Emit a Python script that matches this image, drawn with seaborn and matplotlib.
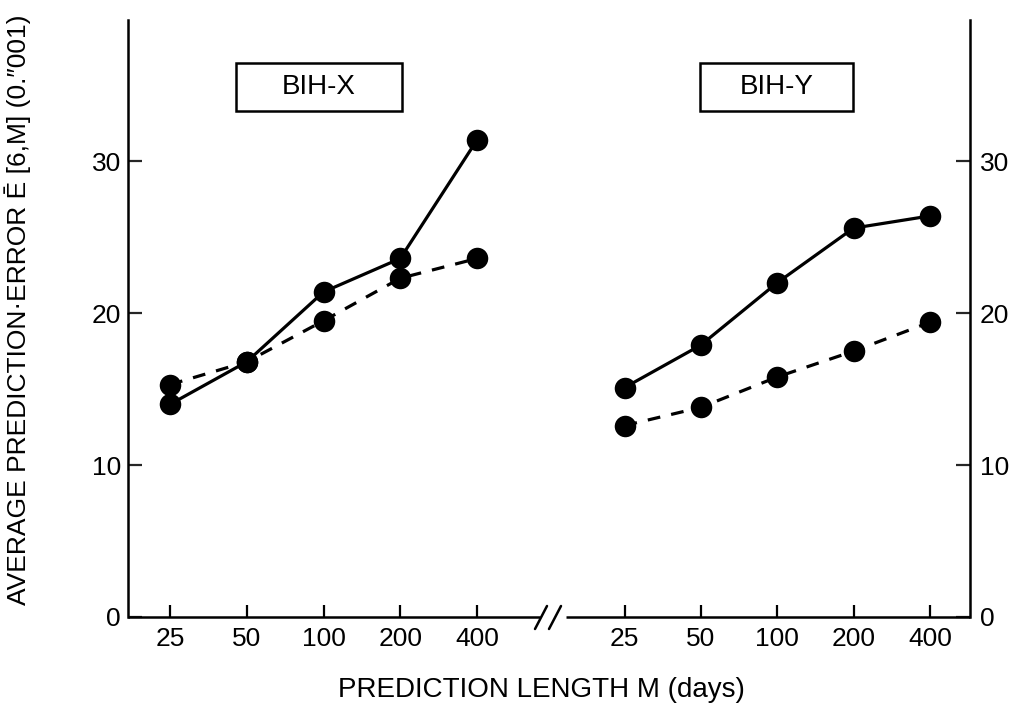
import matplotlib
matplotlib.use("Agg")
import matplotlib.pyplot as plt
import seaborn as sns
import pandas as pd
from matplotlib.patches import Rectangle

sns.set_theme(style="white")
plt.rcParams['font.family'] = ['Liberation Sans', 'DejaVu Sans']

lengths = [25, 50, 100, 200, 400]
bihx_solid = [14.0, 16.8, 21.4, 23.6, 31.4]
bihx_dashed = [15.3, 16.8, 19.5, 22.3, 23.6]
bihy_solid = [15.1, 17.9, 22.0, 25.6, 26.4]
bihy_dashed = [12.6, 13.8, 15.8, 17.5, 19.4]
yticks = [0, 10, 20, 30]
panel_titles = ["BIH-X", "BIH-Y"]

fig = plt.figure(figsize=(10.12, 7.15), dpi=100)
W, H = 1012, 715
bottom = (H - 617) / H
height = (617 - 20) / H
axL = fig.add_axes([128 / W, bottom, (555 - 128) / W, height])
axR = fig.add_axes([555 / W, bottom, (970 - 555) / W, height])

ms = 15.5
lw = 2.3
tfs = 19
for ax, solid, dashed in [(axL, bihx_solid, bihx_dashed), (axR, bihy_solid, bihy_dashed)]:
    df = pd.DataFrame({"M": lengths + lengths,
                       "E": solid + dashed,
                       "kind": ["solid"] * 5 + ["dashed"] * 5})
    sns.lineplot(data=df[df.kind == "dashed"], x="M", y="E", ax=ax, color="black",
                 marker="o", markersize=ms, linewidth=lw, markeredgewidth=0,
                 linestyle=(0, (4, 3.5)), legend=False)
    sns.lineplot(data=df[df.kind == "solid"], x="M", y="E", ax=ax, color="black",
                 marker="o", markersize=ms, linewidth=lw, markeredgewidth=0,
                 legend=False)
    ax.set_xscale("log", base=2)
    ax.set_xticks(lengths)
    ax.set_xticklabels([str(v) for v in lengths], fontsize=tfs)
    ax.minorticks_off()
    ax.set_ylim(0, 39.3)
    ax.set_xlabel("")
    ax.set_ylabel("")
    ax.set_facecolor("white")
    for s in ax.spines.values():
        s.set_visible(False)
    ax.tick_params(axis="x", direction="in", length=9, width=1.6, color="black",
                   bottom=True, pad=7, labelcolor="black")

axL.set_xlim(17.1, 809)
axR.set_xlim(13.3, 576)

# y axes
axL.spines["left"].set_visible(True)
axL.spines["left"].set_linewidth(1.8)
axL.spines["left"].set_color("black")
axL.set_yticks(yticks)
axL.set_yticklabels([str(v) for v in yticks], fontsize=tfs)
axL.tick_params(axis="y", direction="in", length=10, width=1.6, left=True, pad=5, labelcolor="black")

axR.spines["right"].set_visible(True)
axR.spines["right"].set_linewidth(1.8)
axR.spines["right"].set_color("black")
axR.set_yticks(yticks)
axR.set_yticklabels([str(v) for v in yticks], fontsize=tfs)
axR.yaxis.tick_right()
axR.tick_params(axis="y", direction="in", length=10, width=1.6, right=True, left=False,
                labelright=True, labelleft=False, pad=7, labelcolor="black")

# bottom lines with break
axL.plot([0, (540 - 128) / 427], [0, 0], transform=axL.transAxes, color="black",
         lw=1.8, clip_on=False, solid_capstyle="butt")
axR.plot([(566 - 555) / 415, 1], [0, 0], transform=axR.transAxes, color="black",
         lw=1.8, clip_on=False, solid_capstyle="butt")
for x0 in (535, 549):
    fig.add_artist(plt.Line2D([x0 / W, (x0 + 12) / W], [(H - 629) / H, (H - 606) / H],
                              color="black", lw=1.8, transform=fig.transFigure))

# panel boxes
for ax, x0, x1, title in [(axL, 236, 402, panel_titles[0]), (axR, 700, 853, panel_titles[1])]:
    ax_x0 = ax.get_position().x0 * W
    ax_w = ax.get_position().width * W
    fx0 = (x0 - ax_x0) / ax_w
    fx1 = (x1 - ax_x0) / ax_w
    fy0 = (617 - 111) / 597
    fy1 = (617 - 63) / 597
    ax.add_patch(Rectangle((fx0, fy0), fx1 - fx0, fy1 - fy0, transform=ax.transAxes,
                           fill=False, edgecolor="black", lw=1.8, clip_on=False))
    ax.text((fx0 + fx1) / 2, (fy0 + fy1) / 2, title, transform=ax.transAxes,
            ha="center", va="center", fontsize=20, color="black")

fig.text(18 / W, (H - 310) / H, "AVERAGE PREDICTION\u00b7ERROR \u0112 [6,M] (0.\u2033001)",
         rotation=90, ha="center", va="center", fontsize=19, color="black")
fig.text(541 / W, (H - 690) / H, "PREDICTION LENGTH M (days)", ha="center", va="center",
         fontsize=20, color="black")

fig.savefig("out.png", dpi=100, facecolor="white")
